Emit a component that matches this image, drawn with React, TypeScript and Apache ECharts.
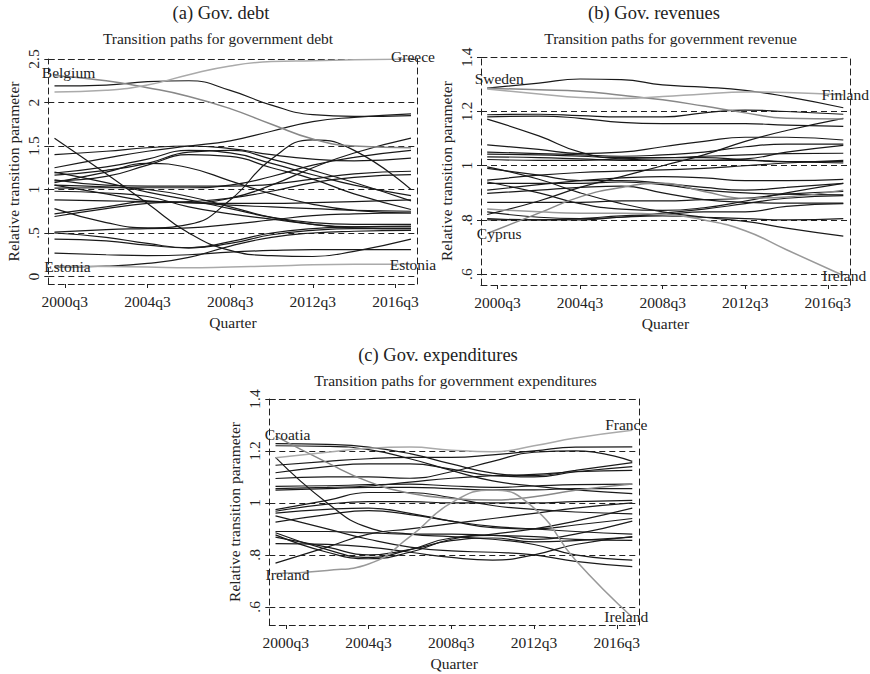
import React, { useEffect, useRef } from "react";
import * as echarts from "echarts";

// quarter index: 0 = 2000q3
const QUARTERS = [-2, 8, 16, 24, 32, 40, 48, 56, 67];
const X_TICKS = [0, 16, 32, 48, 64];
const X_MIN = -3.2;
const X_MAX = 68.3;

const DEBT_TICKS = [0, 0.5, 1, 1.5, 2, 2.5];
const REV_TICKS = [0.6, 0.8, 1, 1.2, 1.4];
const EXP_TICKS = [0.6, 0.8, 1, 1.2, 1.4];

// (a) government debt
const debtBelgium = [2.31, 2.25, 2.17, 2.07, 1.93, 1.75, 1.58, 1.5, 1.48];
const debtGreece = [2.12, 2.14, 2.2, 2.32, 2.42, 2.47, 2.48, 2.49, 2.5];
const debtEstonia = [0.12, 0.115, 0.11, 0.1, 0.11, 0.12, 0.135, 0.14, 0.14];
const debtOthers = [
  [2.19, 2.2, 2.24, 2.25, 2.14, 1.97, 1.86, 1.84, 1.85],
  [1.59, 1.18, 0.84, 0.5, 0.3, 0.24, 0.23, 0.29, 0.43],
  [0.78, 0.62, 0.56, 0.6, 0.88, 1.35, 1.57, 1.45, 1.0],
  [0.11, 0.12, 0.15, 0.22, 0.35, 0.45, 0.5, 0.52, 0.53],
  [0.27, 0.25, 0.24, 0.25, 0.28, 0.3, 0.31, 0.31, 0.31],
  [0.43, 0.41, 0.36, 0.33, 0.38, 0.48, 0.53, 0.55, 0.55],
  [0.51, 0.54, 0.55, 0.56, 0.6, 0.65, 0.7, 0.72, 0.73],
  [0.5, 0.45, 0.38, 0.33, 0.4, 0.5, 0.55, 0.57, 0.58],
  [0.69, 0.78, 0.84, 0.86, 0.9, 0.98, 1.08, 1.14, 1.17],
  [0.72, 0.8, 0.86, 0.85, 0.82, 0.8, 0.78, 0.76, 0.75],
  [0.88, 0.87, 0.86, 0.85, 0.84, 0.84, 0.85, 0.86, 0.88],
  [1.25, 1.36, 1.44, 1.5, 1.56, 1.67, 1.78, 1.83, 1.87],
  [1.05, 0.95, 0.87, 0.85, 0.9, 1.05, 1.25, 1.42, 1.59],
  [1.015, 1.02, 1.02, 1.02, 1.05, 1.15, 1.28, 1.37, 1.45],
  [1.4, 1.44, 1.48, 1.5, 1.47, 1.4, 1.35, 1.33, 1.36],
  [1.19, 1.26, 1.35, 1.45, 1.42, 1.3, 1.17, 1.05, 0.93],
  [1.165, 1.22, 1.3, 1.43, 1.45, 1.35, 1.22, 1.08, 0.87],
  [1.1, 1.15, 1.28, 1.4, 1.38, 1.25, 1.12, 0.95, 0.77],
  [1.08, 1.2, 1.3, 1.25, 1.1, 0.95, 0.83, 0.76, 0.73],
  [1.11, 1.05, 1.04, 1.04, 1.04, 1.06, 1.12, 1.18, 1.21],
  [1.2, 1.08, 0.97, 0.88, 0.78, 0.68, 0.62, 0.6, 0.6],
  [1.05, 1.03, 1.0, 0.92, 0.8, 0.68, 0.6, 0.57, 0.57],
  [0.98, 0.96, 0.92, 0.8, 0.72, 0.66, 0.6, 0.56, 0.55],
];

// (b) government revenues
const revSweden = [1.286, 1.28, 1.275, 1.26, 1.243, 1.22, 1.195, 1.175, 1.172];
const revFinland = [1.283, 1.265, 1.252, 1.248, 1.255, 1.265, 1.272, 1.27, 1.262];
const revCyprus = [0.75, 0.825, 0.885, 0.92, 0.935, 0.905, 0.88, 0.885, 0.91];
const revIreland = [0.84, 0.83, 0.825, 0.825, 0.82, 0.8, 0.76, 0.69, 0.595];
const revOthers = [
  [1.286, 1.305, 1.32, 1.318, 1.298, 1.29, 1.278, 1.255, 1.214],
  [1.188, 1.19, 1.185, 1.18, 1.18, 1.195, 1.205, 1.2, 1.19],
  [1.18, 1.183, 1.175, 1.16, 1.155, 1.155, 1.155, 1.15, 1.145],
  [1.172, 1.11, 1.05, 1.025, 1.02, 1.02, 1.02, 1.015, 1.01],
  [0.82, 0.87, 0.92, 0.96, 1.0, 1.04, 1.09, 1.13, 1.175],
  [1.077, 1.06, 1.045, 1.05, 1.07, 1.09, 1.105, 1.105, 1.095],
  [1.05, 1.045, 1.04, 1.035, 1.04, 1.05, 1.07, 1.08, 1.08],
  [1.043, 1.04, 1.035, 1.03, 1.03, 1.035, 1.04, 1.045, 1.046],
  [1.033, 1.03, 1.025, 1.02, 1.02, 1.02, 1.025, 1.05, 1.075],
  [1.023, 1.02, 1.02, 1.025, 1.03, 1.03, 1.022, 1.015, 1.015],
  [0.996, 0.95, 0.9, 0.86, 0.83, 0.81, 0.795, 0.77, 0.74],
  [0.99, 0.965, 0.945, 0.945, 0.935, 0.92, 0.91, 0.92, 0.935],
  [0.947, 0.965, 0.975, 0.98, 0.985, 0.99, 1.0, 1.01, 1.02],
  [0.935, 0.935, 0.935, 0.94, 0.93, 0.91, 0.9, 0.895, 0.893],
  [0.91, 0.93, 0.945, 0.955, 0.96, 0.955, 0.945, 0.945, 0.95],
  [0.898, 0.91, 0.92, 0.925, 0.9, 0.875, 0.865, 0.862, 0.862],
  [0.865, 0.865, 0.865, 0.87, 0.87, 0.875, 0.88, 0.895, 0.905],
  [0.83, 0.81, 0.805, 0.81, 0.825, 0.84, 0.86, 0.88, 0.89],
  [0.805, 0.8, 0.8, 0.81, 0.815, 0.81, 0.805, 0.8, 0.805],
  [0.8, 0.8, 0.805, 0.815, 0.82, 0.83, 0.83, 0.85, 0.86],
  [0.94, 0.9, 0.86, 0.84, 0.835, 0.845, 0.87, 0.9, 0.935],
];

// (c) government expenditures
const expFrance = [1.174, 1.195, 1.21, 1.215, 1.203, 1.197, 1.22, 1.25, 1.28];
const expCroatia = [1.257, 1.155, 1.082, 1.037, 1.017, 1.011, 1.024, 1.049, 1.073];
const expIreland = [0.728, 0.74, 0.765, 0.87, 1.0, 1.05, 0.98, 0.78, 0.56];
const expOthers = [
  [1.228, 1.225, 1.215, 1.19, 1.15, 1.115, 1.105, 1.125, 1.155],
  [1.22, 1.218, 1.205, 1.17, 1.125, 1.085, 1.065, 1.05, 1.036],
  [1.175, 1.0, 0.905, 0.88, 0.87, 0.86, 0.84, 0.8, 0.78],
  [1.145, 1.16, 1.17, 1.175, 1.175, 1.185, 1.2, 1.215, 1.216],
  [1.116, 1.14, 1.15, 1.15, 1.13, 1.105, 1.1, 1.12, 1.14],
  [1.094, 1.1, 1.1, 1.095, 1.12, 1.16, 1.195, 1.2, 1.16],
  [1.064, 1.066, 1.07, 1.072, 1.065, 1.06, 1.065, 1.07, 1.072],
  [1.055, 1.06, 1.065, 1.08, 1.095, 1.105, 1.11, 1.12, 1.125],
  [1.049, 1.055, 1.06, 1.06, 1.055, 1.05, 1.05, 1.055, 1.055],
  [0.974, 1.01, 1.04, 1.04, 1.02, 0.99, 0.975, 0.965, 0.958],
  [0.968, 0.995, 1.005, 1.005, 1.0, 1.0, 1.0, 1.005, 1.01],
  [0.961, 0.975, 0.98, 0.96, 0.93, 0.905, 0.9, 0.915, 0.94],
  [0.926, 0.955, 0.97, 0.955, 0.93, 0.91, 0.9, 0.89, 0.88],
  [0.885, 0.82, 0.79, 0.82, 0.865, 0.875, 0.86, 0.88, 0.93],
  [0.877, 0.81, 0.785, 0.81, 0.86, 0.88, 0.9, 0.93, 0.98],
  [0.868, 0.83, 0.8, 0.82, 0.855, 0.865, 0.85, 0.855, 0.868],
  [0.843, 0.84, 0.83, 0.81, 0.79, 0.78, 0.8, 0.84, 0.87],
  [0.768, 0.83, 0.88, 0.9, 0.92, 0.94, 0.96, 0.98, 1.0],
  [0.89, 0.89, 0.885, 0.88, 0.88, 0.875, 0.87, 0.86, 0.856],
  [0.95, 0.9, 0.86, 0.83, 0.815, 0.81, 0.8, 0.775, 0.755],
];

const FONT = "'Liberation Serif', 'Times New Roman', serif";
const TEXT = "#222";
const DASH = [6, 4];

type Lab = { text: string; at: "first" | "last"; offset: [number, number] };

function quarterLabel(v: number) {
  const q = Math.round(v);
  const year = 2000 + Math.floor((q + 2) / 4);
  const qq = (((q + 2) % 4) + 4) % 4 + 1;
  return `${year}q${qq}`;
}

function yLabel(v: number) {
  const s = String(parseFloat(Math.abs(v) < 1e-9 ? "0" : v.toFixed(2)));
  return s.replace(/^0\./, ".");
}

function series(panel: number, values: number[], color: string, width: number, labels: Lab[] = []) {
  const data = QUARTERS.map((q, i) => {
    const lab = labels.find(
      (l) => (l.at === "first" && i === 0) || (l.at === "last" && i === QUARTERS.length - 1)
    );
    if (!lab) return [q, values[i]];
    return {
      value: [q, values[i]],
      label: {
        show: true,
        formatter: lab.text,
        position: "inside",
        offset: lab.offset,
        color: TEXT,
        fontSize: 15.5,
        fontFamily: FONT,
      },
    };
  });
  const hasLab = labels.length > 0;
  return {
    type: "line",
    xAxisIndex: panel * 2,
    yAxisIndex: panel * 2,
    data,
    smooth: 0.5,
    symbol: hasLab ? "circle" : "none",
    symbolSize: 1,
    showSymbol: hasLab,
    itemStyle: { color: "rgba(0,0,0,0)" },
    lineStyle: { color, width },
    silent: true,
    z: hasLab ? 3 : 2,
  };
}

function axes(grid: number, yMin: number, yMax: number, step: number, yTicks: number[]) {
  const dashed = { color: TEXT, type: DASH, width: 1 };
  const textStyle = { color: TEXT, fontSize: 15.5, fontFamily: FONT };
  const xAxes = [
    {
      type: "value",
      gridIndex: grid,
      min: X_MIN,
      max: X_MAX,
      position: "bottom",
      axisLine: { show: true, onZero: false, lineStyle: dashed },
      axisTick: { show: true, length: 4, customValues: X_TICKS, lineStyle: { color: TEXT } },
      axisLabel: { customValues: X_TICKS, formatter: quarterLabel, margin: 9, ...textStyle },
      splitLine: { show: false },
      name: "Quarter",
      nameLocation: "middle",
      nameGap: 30,
      nameTextStyle: textStyle,
    },
    {
      type: "value",
      gridIndex: grid,
      min: X_MIN,
      max: X_MAX,
      position: "top",
      axisLine: { show: true, onZero: false, lineStyle: dashed },
      axisTick: { show: false },
      axisLabel: { show: false },
      splitLine: { show: false },
    },
  ];
  const yAxes = [
    {
      type: "value",
      gridIndex: grid,
      min: yMin,
      max: yMax,
      minInterval: step,
      maxInterval: step,
      position: "left",
      axisLine: { show: true, onZero: false, lineStyle: dashed },
      axisTick: { show: true, length: 4, customValues: yTicks, lineStyle: { color: TEXT } },
      axisLabel: { customValues: yTicks, rotate: 90, formatter: yLabel, margin: 7, ...textStyle },
      splitLine: { show: true, lineStyle: dashed },
      name: "Relative transition parameter",
      nameLocation: "middle",
      nameGap: 27,
      nameTextStyle: textStyle,
    },
    {
      type: "value",
      gridIndex: grid,
      min: yMin,
      max: yMax,
      position: "right",
      axisLine: { show: true, onZero: false, lineStyle: dashed },
      axisTick: { show: false },
      axisLabel: { show: false },
      splitLine: { show: false },
    },
  ];
  return { xAxes, yAxes };
}

function title(x: number, y: number, text: string, size: number) {
  return {
    type: "text",
    x,
    y,
    style: {
      text,
      fontSize: size,
      fontFamily: FONT,
      fill: TEXT,
      textAlign: "center",
      textVerticalAlign: "middle",
      align: "center",
      verticalAlign: "middle",
    },
  };
}

export default function App() {
  const ref = useRef<HTMLDivElement>(null);
  useEffect(() => {
    if (!ref.current) return;
    const chart = echarts.init(ref.current, null, { renderer: "svg" });
    const a = axes(0, -0.086, 2.5, 0.5, DEBT_TICKS);
    const b = axes(1, 0.56, 1.4, 0.2, REV_TICKS);
    const c = axes(2, 0.53, 1.4, 0.2, EXP_TICKS);
    const BLACK = "#1a1a1a";
    const allSeries: any[] = [];
    debtOthers.forEach((v) => allSeries.push(series(0, v, BLACK, 1.2)));
    allSeries.push(series(0, debtBelgium, "#888", 1.5, [{ text: "Belgium", at: "first", offset: [14, -3] }]));
    allSeries.push(series(0, debtGreece, "#aaa", 1.5, [{ text: "Greece", at: "last", offset: [2, -3] }]));
    allSeries.push(
      series(0, debtEstonia, "#aaa", 1.5, [
        { text: "Estonia", at: "first", offset: [13, 0] },
        { text: "Estonia", at: "last", offset: [2, 0] },
      ])
    );
    revOthers.forEach((v) => allSeries.push(series(1, v, BLACK, 1.2)));
    allSeries.push(series(1, revSweden, "#888", 1.5, [{ text: "Sweden", at: "first", offset: [12, -10] }]));
    allSeries.push(series(1, revFinland, "#aaa", 1.5, [{ text: "Finland", at: "last", offset: [2, 0] }]));
    allSeries.push(series(1, revCyprus, "#888", 1.5, [{ text: "Cyprus", at: "first", offset: [12, 0] }]));
    allSeries.push(series(1, revIreland, "#999", 1.5, [{ text: "Ireland", at: "last", offset: [1, 0] }]));
    expOthers.forEach((v) => allSeries.push(series(2, v, BLACK, 1.2)));
    allSeries.push(series(2, expCroatia, "#888", 1.5, [{ text: "Croatia", at: "first", offset: [12, -2] }]));
    allSeries.push(series(2, expFrance, "#aaa", 1.5, [{ text: "France", at: "last", offset: [-6, -6] }]));
    allSeries.push(
      series(2, expIreland, "#999", 1.5, [
        { text: "Ireland", at: "first", offset: [12, 1] },
        { text: "Ireland", at: "last", offset: [-6, -1] },
      ])
    );

    chart.setOption({
      animation: false,
      backgroundColor: "#fff",
      grid: [
        { left: 48.3, right: 452.3, top: 59, bottom: 390 },
        { left: 481, right: 20, top: 57.3, bottom: 389 },
        { left: 269.3, right: 231, top: 399, bottom: 49 },
      ],
      xAxis: [...a.xAxes, ...b.xAxes, ...c.xAxes],
      yAxis: [...a.yAxes, ...b.yAxes, ...c.yAxes],
      series: allSeries,
      graphic: [
        title(221, 13, "(a) Gov. debt", 18.5),
        title(218, 38.3, "Transition paths for government debt", 15.5),
        title(654, 13.3, "(b) Gov. revenues", 18.5),
        title(670.5, 38.3, "Transition paths for government revenue", 15.5),
        title(438, 355, "(c) Gov. expenditures", 18.5),
        title(455.5, 380, "Transition paths for government expenditures", 15.5),
      ],
    });
    return () => chart.dispose();
  }, []);
  return (
    <div
      ref={ref}
      style={{ position: "fixed", left: 0, top: 0, width: 870, height: 674, background: "#fff" }}
    />
  );
}
